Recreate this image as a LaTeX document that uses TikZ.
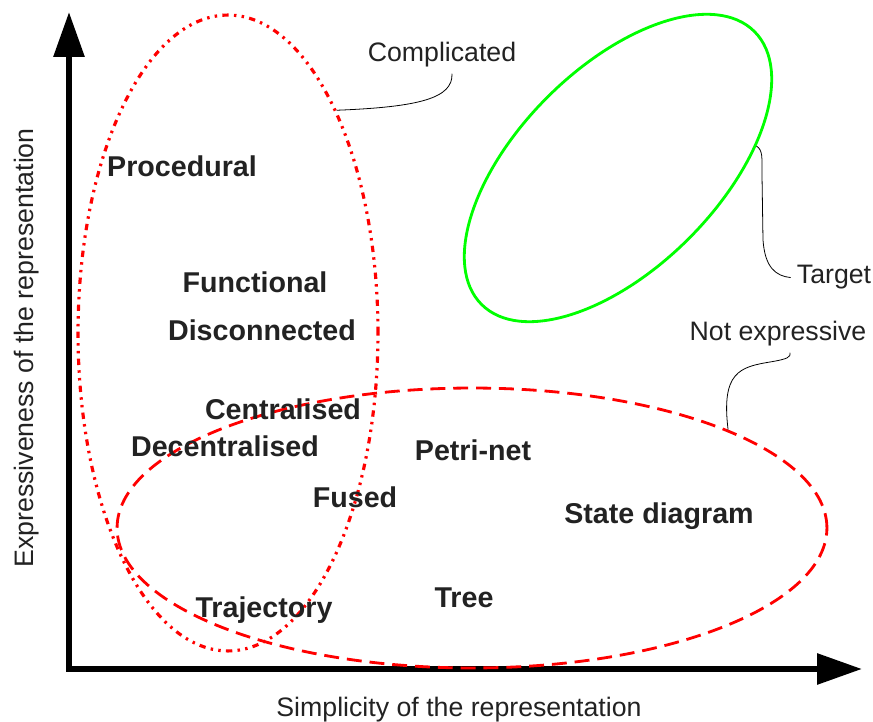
\documentclass[tikz,border=0pt]{standalone}
\usepackage{fontspec}
\setmainfont{Liberation Sans}
\usetikzlibrary{arrows.meta, shapes.geometric}
\definecolor{ink}{HTML}{222222}
\definecolor{brightgreen}{HTML}{00FF00}
\tikzset {
    >={Triangle[length=0.9cm, width=0.6cm]},
    kind/.style={text=ink, font=\fontsize{16.3}{19}\selectfont\bfseries, anchor=base},
    note/.style={text=ink, font=\fontsize{15.2}{18}\selectfont, anchor=base},
    region/.style={ellipse, draw, inner sep=0pt, line width=1.6pt},
    leader/.style={draw=black, line width=0.45pt}
}

\begin{document}
\begin{tikzpicture}[x=0.02cm, y=-0.02cm]
    \useasboundingbox (0,0) rectangle (873,722);

    % axes
    \coordinate (ytip) at (69,12);
    \coordinate (xtip) at (862,669);
    \draw[<->, line width=0.12cm] (ytip) |- (xtip);
    \node[note, rotate=90] (ylab) at (33,348) {Expressiveness of the representation};
    \node[note] (xlab) at (459,717) {Simplicity of the representation};

    % regions
    \node[region, red, minimum width=6cm, minimum height=12.72cm, line width=1.8pt,
          dash pattern=on 3.6pt off 3pt on 1.4pt off 3pt on 1.4pt off 3pt] (cmplx) at (228,333) {};
    \node[region, red, minimum width=14.2cm, minimum height=5.6cm, dash pattern=on 8.5pt off 4.5pt] (plain) at (472,528) {};
    \node[region, brightgreen, minimum width=7.72cm, minimum height=4cm, rotate=45] (tgt) at (618,168) {};

    % representations
    \node[kind] (proc) at (182,177) {Procedural};
    \node[kind] (func) at (255,293) {Functional};
    \node[kind] (disc) at (262,341) {Disconnected};
    \node[kind] (cent) at (283,420) {Centralised};
    \node[kind] (dece) at (225,457) {Decentralised};
    \node[kind] (petri) at (473,461) {Petri-net};
    \node[kind] (fused) at (355,508) {Fused};
    \node[kind] (state) at (659,524) {State diagram};
    \node[kind] (traj) at (264,618) {Trajectory};
    \node[kind] (tree) at (464,608) {Tree};

    % callouts
    \node[note] (cmpLbl) at (442,62) {Complicated};
    \node[note] (tgtLbl) at (834,284) {Target};
    \node[note] (nexLbl) at (778,341) {Not expressive};

    \draw[leader] (cmplx.64.5) .. controls (420,107) and (453,98) .. ([xshift=0.2cm]cmpLbl.south);
    \draw[leader] (tgt.-36) .. controls (763,150) and (762,158) .. (762,175)
        -- (763,240) .. controls (765,268) and (776,276) .. (tgtLbl.west);
    \draw[leader] (plain.21.6) .. controls (721,372) and (740,367) .. (770,362)
        .. controls (788,359) and (791,357) .. ([xshift=0.24cm]nexLbl.south);
\end{tikzpicture}
\end{document}
